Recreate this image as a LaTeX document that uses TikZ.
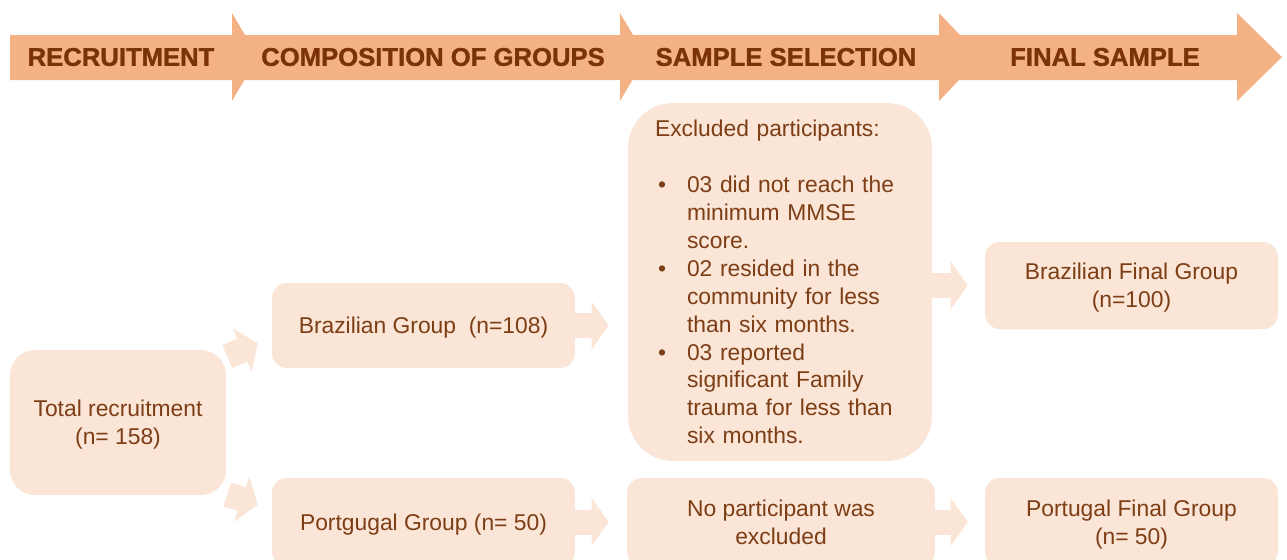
\documentclass[tikz,border=0pt]{standalone}
\usepackage{fontspec}
\setmainfont{Liberation Sans}
\newfontfamily\headfont{Liberation Sans}[BoldFeatures={FakeBold=1.2}]
\usepackage{tikz}
\usetikzlibrary{positioning,calc}
\usetikzlibrary{arrows.meta}
\definecolor{BandOrange}{RGB}{244,177,132}
\definecolor{BoxPeach}{RGB}{250,229,214}
\definecolor{InkBrown}{RGB}{125,62,22}
\definecolor{HeadBrown}{RGB}{124,50,8}
\tikzset{
	stage/.style={font=\headfont\bfseries\fontsize{14.6}{17}\selectfont,text=HeadBrown},
	box/.style={fill=BoxPeach,rounded corners=0.3cm,inner sep=0pt,align=center,
		text=InkBrown,font=\fontsize{13}{15.9}\selectfont},
	blk/.style={draw=BoxPeach,line width=0.5cm,
		-{Triangle[length=0.34cm,width=0.96cm,line width=0pt]}},
}
\newcommand{\exbul}{\makebox[0.64cm][l]{\hspace{0.06cm}\textbullet}}
\newcommand{\exind}{\makebox[0.64cm]{}}

\begin{document}
\begin{tikzpicture}[x=0.02cm,y=-0.02cm]
	\useasboundingbox (0,0) rectangle (1287,559);
	\foreach \s/\f/\t in {10/232/258,232/620/646,620/939/981,939/1237/1282}
		\fill[BandOrange] (\s,35) -- (\f,35) -- (\f,13) -- (\t,57) -- (\f,101) -- (\f,80) -- (\s,80) -- cycle;
	\node[stage] (rec) at (121,57) {RECRUITMENT};
	\node[stage] (comp) at (433,57) {COMPOSITION OF GROUPS};
	\node[stage] (sel) at (786,57) {SAMPLE SELECTION};
	\node[stage] (fin) at (1105,57) {FINAL SAMPLE};

	\node[box,minimum width=4.32cm,minimum height=2.9cm,rounded corners=0.5cm,text depth=0pt] (total) at (118,422.5) {Total recruitment\\(n= 158)};
	\node[box,minimum width=6.06cm,minimum height=1.7cm,text depth=0pt] (braz) at (423.5,325.5) {Brazilian Group\ \ (n=108)};
	\node[box,minimum width=6.06cm,minimum height=1.76cm,text depth=0pt] (port) at (423.5,522) {Portgugal Group (n= 50)};
	\node[box,minimum width=6.08cm,minimum height=7.16cm,rounded corners=0.9cm,align=left,
		inner xsep=0.54cm,text width=5cm] (excl) at (780,282) {Excluded participants:\\[0.56cm]
		\exbul 03 did not reach the\\
		\exind minimum MMSE\\
		\exind score.\\
		\exbul 02 resided in the\\
		\exind community for less\\
		\exind than six months.\\
		\exbul 03 reported\\
		\exind significant Family\\
		\exind trauma for less than\\
		\exind six months.};
	\node[box,minimum width=6.16cm,minimum height=1.76cm] (noex) at (781,522) {No participant was\\excluded};
	\node[box,minimum width=5.86cm,minimum height=1.74cm,text depth=0pt] (bfin) at (1131.5,285.5) {Brazilian Final Group\\(n=100)};
	\node[box,minimum width=5.86cm,minimum height=1.76cm,text depth=0pt] (pfin) at (1131.5,522) {Portugal Final Group\\(n= 50)};

	\draw[blk] ($(total.north east)+(1,7)$) -- ($(braz.south west)+(-14,-25)$);
	\draw[blk] ($(total.south east)+(1,-1)$) -- ($(port.north west)+(-14,27)$);
	\draw[blk,shorten >=0.38cm] (braz.east) -- (excl.west |- braz.east);
	\draw[blk,shorten >=0.36cm] (port.east) -- (noex.west |- port.east);
	\draw[blk,shorten >=0.34cm] (excl.east |- bfin.west) -- (bfin.west);
	\draw[blk,shorten >=0.34cm] (noex.east) -- (pfin.west);
\end{tikzpicture}
\end{document}
